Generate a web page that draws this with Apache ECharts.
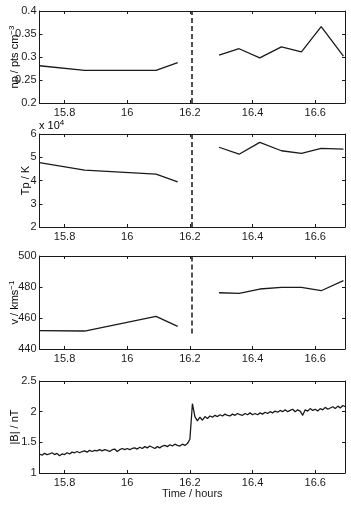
<!DOCTYPE html>
<html>
<head>
<meta charset="utf-8">
<script src="https://cdn.jsdelivr.net/npm/echarts@6.0.0/dist/echarts.min.js"></script>
<style>
  html, body { margin: 0; background: #fff; }
  #chart { width: 351px; height: 506px; }
</style>
</head>
<body>
<div id="chart"></div>
<script>
// plasma moments, one value every ~4 min (null = data gap)
const sampleTimes = [15.72, 15.864, 16.092, 16.161, 16.228, 16.293, 16.357, 16.423, 16.492, 16.556, 16.619, 16.69];
const np = [0.281, 0.271, 0.271, 0.288, null, 0.304, 0.318, 0.298, 0.322, 0.311, 0.366, 0.302];
const tp = [4.77, 4.45, 4.27, 3.94, null, 5.43, 5.13, 5.64, 5.28, 5.17, 5.38, 5.35]; // x 10^4 K
const v = [451.8, 451.6, 461.1, 454.6, null, 476.3, 475.9, 478.7, 479.8, 479.8, 477.6, 484.1];

// magnetic field magnitude, one value every 0.008 h
const bStart = 15.72;
const bStep = 0.008;
const bField = [
  1.31, 1.29, 1.32, 1.30, 1.31, 1.33, 1.30, 1.32, 1.28, 1.31,
  1.30, 1.33, 1.31, 1.34, 1.33, 1.35, 1.33, 1.35, 1.36, 1.34,
  1.37, 1.35, 1.37, 1.36, 1.38, 1.36, 1.38, 1.37, 1.35, 1.38,
  1.39, 1.35, 1.38, 1.40, 1.38, 1.40, 1.38, 1.40, 1.41, 1.39,
  1.42, 1.40, 1.43, 1.41, 1.44, 1.42, 1.40, 1.43, 1.41, 1.44,
  1.45, 1.43, 1.46, 1.44, 1.47, 1.45, 1.44, 1.47, 1.45, 1.48,
  1.55, 2.13, 1.92, 1.85, 1.91, 1.86, 1.92, 1.89, 1.93, 1.91,
  1.94, 1.92, 1.95, 1.93, 1.96, 1.94, 1.93, 1.96, 1.94, 1.97,
  1.95, 1.94, 1.97, 1.95, 1.98, 1.95, 1.97, 1.95, 1.98, 1.96,
  1.99, 1.97, 2.00, 1.98, 2.01, 1.99, 2.02, 2.00, 2.03, 2.00,
  2.02, 2.04, 2.00, 2.03, 2.01, 1.94, 2.03, 2.01, 2.05, 2.02,
  2.04, 2.01, 2.05, 2.03, 2.07, 2.04, 2.06, 2.08, 2.05, 2.09,
  2.06, 2.10, 2.08
];

const shockTime = 16.205;
const xTicks = [15.8, 16, 16.2, 16.4, 16.6];
const xMin = 15.72;
const xMax = 16.695;

const font = 'Liberation Sans';
const ink = '#1a1a1a';

const panels = [
  { top: 11, height: 92, min: 0.2, max: 0.4, interval: 0.05, name: '{n|np / pts cm}{s|−3}', nameX: 14.5,
    data: sampleTimes.map((t, i) => [t, np[i] == null ? '-' : np[i]]), shock: [0.2, 0.4] },
  { top: 134, height: 93, min: 2, max: 6, interval: 1, name: '{n|Tp / K}', nameX: 25.5,
    data: sampleTimes.map((t, i) => [t, tp[i] == null ? '-' : tp[i]]), shock: [2, 6] },
  { top: 256, height: 93, min: 440, max: 500, interval: 20, name: '{n|v / kms}{s|−1}', nameX: 14.5,
    data: sampleTimes.map((t, i) => [t, v[i] == null ? '-' : v[i]]), shock: [450, 500] },
  { top: 381, height: 92, min: 1, max: 2.5, interval: 0.5, name: '{n||B| / nT}', nameX: 15,
    data: bField.map((b, i) => [bStart + i * bStep, b]), shock: null },
];

const grid = [], xAxis = [], yAxis = [], series = [], graphic = [];
const nameRich = {
  n: { fontSize: 11, fontFamily: font, color: ink, lineHeight: 14 },
  s: { fontSize: 8, fontFamily: font, color: ink, verticalAlign: 'top', lineHeight: 9 },
};

panels.forEach((p, k) => {
  grid.push({ left: 39.5, right: 6, top: p.top, height: p.height, containLabel: false, outerBoundsMode: 'none' });
  const xBase = {
    type: 'value', gridIndex: k, min: xMin, max: xMax,
    axisLine: { lineStyle: { color: ink, width: 1 } },
    axisTick: { inside: true, length: 3, customValues: xTicks, lineStyle: { color: ink } },
    splitLine: { show: false },
  };
  xAxis.push(Object.assign({}, xBase, {
    position: 'bottom',
    axisLabel: { customValues: xTicks, fontSize: 11, fontFamily: font, color: ink, margin: 4 },
    name: k === 3 ? 'Time / hours' : '',
    nameLocation: 'middle', nameGap: 15, nameMoveOverlap: false,
    nameTextStyle: { fontSize: 11, fontFamily: font, color: ink },
  }));
  xAxis.push(Object.assign({}, xBase, { position: 'top', axisLabel: { show: false } }));

  const yBase = {
    type: 'value', gridIndex: k, min: p.min, max: p.max, interval: p.interval,
    axisLine: { show: true, lineStyle: { color: ink, width: 1 } },
    axisTick: { show: true, inside: true, length: 3, lineStyle: { color: ink } },
    splitLine: { show: false },
  };
  yAxis.push(Object.assign({}, yBase, {
    position: 'left',
    axisLabel: { fontSize: 11, fontFamily: font, color: ink, margin: 3 },
  }));
  yAxis.push(Object.assign({}, yBase, { position: 'right', axisLabel: { show: false } }));

  // rotated y label, centred on the panel
  graphic.push({
    type: 'text', x: p.nameX, y: p.top + p.height / 2, rotation: Math.PI / 2,
    style: { text: p.name, rich: nameRich, align: 'center', verticalAlign: 'middle' },
  });

  const s = {
    type: 'line', xAxisIndex: 2 * k, yAxisIndex: 2 * k,
    data: p.data, showSymbol: false, connectNulls: false,
    lineStyle: { color: ink, width: 1.3 },
  };
  if (p.shock) {
    s.markLine = {
      silent: true, symbol: 'none', label: { show: false },
      lineStyle: { color: ink, width: 1.5, type: [5, 3] },
      data: [[{ coord: [shockTime, p.shock[0]] }, { coord: [shockTime, p.shock[1]] }]],
    };
  }
  series.push(s);
});

graphic.push({
  type: 'text', left: 39, top: 119,
  style: { text: '{n|x 10}{s|4}', rich: nameRich },
});

echarts.init(document.getElementById('chart'), null, { renderer: 'canvas' }).setOption({
  animation: false,
  backgroundColor: '#fff',
  grid: grid,
  xAxis: xAxis,
  yAxis: yAxis,
  series: series,
  graphic: graphic,
});
</script>
</body>
</html>
